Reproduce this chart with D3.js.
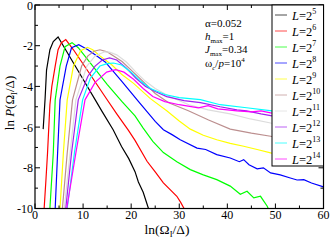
<!DOCTYPE html>
<html>
<head>
<script src="https://d3js.org/d3.v7.min.js"></script>
<style>
body { margin: 0; background: #fff; }
text { font-family: "Liberation Serif", "Times New Roman", serif; }
</style>
</head>
<body>
<script>

// exponents of L = 2^n, one curve each
var exponents = [5, 6, 7, 8, 9, 10, 11, 12, 13, 14];
var colors = ["#000000", "#ff0000", "#00ff00", "#0000ff", "#ffff00", "#bc8f8f", "#dcdcdc", "#a020f0", "#00ffff", "#ff00ff"];

var xTicks = [0, 10, 20, 30, 40, 50, 60];
var yTicks = [-10, -8, -6, -4, -2, 0];

// curves: [ln(Omega/Delta), ln P]
var c5 = [[1.7,-6.1],[2.1,-4.6],[2.4,-3.2],[3.1,-2.2],[3.8,-1.8],[4.8,-1.57],[6,-2.05],[8,-2.85],[10,-3.65],[12.5,-4.65],[14,-5.25],[16.25,-6.13],[18,-6.95],[19.5,-7.55],[20.8,-8.19],[21.5,-8.7],[22.5,-9.2],[23.6,-10]];
var c6 = [[1.9,-10],[2.3,-8.5],[2.6,-7.3],[3.1,-4.9],[3.5,-4.0],[4.2,-3.0],[4.8,-2.2],[5.5,-1.85],[6.4,-1.7],[8,-2.2],[10,-2.9],[12,-3.6],[14.9,-4.62],[17,-5.35],[19.4,-6.15],[20.8,-6.65],[23.3,-7.68],[25,-8.2],[26.7,-8.74],[28,-9.05],[29.5,-9.4],[30.3,-9.7],[31,-10]];
var c7 = [[3.1,-10],[3.8,-7.27],[4.2,-4.66],[5.2,-3.0],[6.25,-2.05],[7.7,-1.85],[9,-2.1],[11,-2.7],[13,-3.3],[15,-3.9],[18.1,-4.75],[20.8,-5.45],[22.5,-6.05],[24.5,-6.7],[26.7,-7.25],[29.5,-7.7],[32.3,-8.09],[35,-8.35],[37.8,-8.58],[40.6,-8.9],[42.7,-9.3],[44.1,-9.15],[45.5,-9.48],[46.9,-9.4],[48.3,-9.89],[48.5,-10]];
var c8 = [[4.2,-10],[4.7,-7.27],[5.2,-4.66],[6.5,-3.0],[7.6,-2.1],[9.1,-1.95],[11,-2.2],[12.5,-2.45],[14.6,-2.8],[18.1,-3.76],[21.5,-4.74],[25,-5.72],[26.7,-6.13],[28.5,-6.37],[30.2,-6.62],[33.7,-7.03],[35.5,-7.1],[37.8,-7.35],[40.6,-7.52],[42.5,-7.7],[43.4,-7.6],[44.5,-7.85],[46.2,-8.05],[47.5,-8.0],[49,-8.25],[51,-8.35],[53.1,-8.5],[54.5,-8.6],[55.9,-8.58],[57.5,-8.75],[60,-8.94]];
var c9 = [[5.2,-10],[5.9,-7.27],[6.7,-4.66],[8.0,-3.0],[9.5,-2.25],[10.9,-2.08],[12,-2.2],[13.5,-2.5],[16,-2.95],[18,-3.4],[20.5,-3.85],[24,-4.6],[27.4,-5.2],[30,-5.7],[32.3,-6.1],[35,-6.4],[37.8,-6.62],[40.6,-6.8],[43.4,-6.94],[46.2,-7.1],[49,-7.27],[52,-7.4],[55,-7.55],[60,-7.8]];
var c10 = [[5.7,-10],[6.7,-7.27],[7.8,-4.66],[9.7,-3.0],[11,-2.5],[12.3,-2.27],[13.5,-2.2],[15,-2.3],[18.1,-2.78],[20,-3.2],[22.2,-3.7],[25,-4.35],[27.8,-4.8],[31.9,-5.2],[36.1,-5.65],[40.6,-6.1],[45,-6.3],[49,-6.45],[52,-6.6],[55,-6.75],[60,-6.9]];
var c11 = [[6.1,-10],[7.3,-7.27],[8.5,-4.66],[10.8,-3.0],[12.5,-2.5],[14.5,-2.3],[15.5,-2.32],[17,-2.45],[19,-2.8],[21,-3.3],[23,-3.75],[25,-4.1],[28,-4.5],[32,-4.9],[36,-5.15],[40.6,-5.35],[44.8,-5.6],[49,-5.8],[55,-6.0],[60,-6.2]];
var c12 = [[6.4,-10],[7.6,-7.27],[9.0,-4.66],[11,-3.5],[12.5,-3.0],[14,-2.7],[15.5,-2.6],[17,-2.7],[19,-3.1],[21,-3.6],[23,-4.0],[25,-4.25],[27.4,-4.5],[31,-4.7],[34.4,-4.8],[38.5,-5.0],[42,-5.15],[44,-5.2],[47,-5.35],[49.3,-5.45],[55,-5.6],[60,-5.8]];
var c13 = [[6.7,-10],[8.2,-7.27],[9.9,-4.66],[11.5,-3.6],[13.5,-3.0],[15,-2.88],[16.3,-2.85],[18,-2.95],[20,-3.3],[22,-3.75],[24,-4.1],[27,-4.4],[30,-4.55],[34.4,-4.65],[38.5,-4.9],[44,-5.05],[49.3,-5.2],[55,-5.4],[60,-5.5]];
var c14 = [[6.6,-10],[8.5,-7.27],[10.4,-4.66],[12.5,-3.8],[14.9,-3.3],[16.8,-3.18],[18.5,-3.3],[20.5,-3.65],[22.5,-4.1],[24.5,-4.5],[27,-4.75],[30,-4.9],[34,-5.05],[36,-4.95],[38,-5.1],[42,-5.2],[45,-5.25],[47,-5.2],[49,-5.3],[55,-5.45],[60,-5.6]];

var curves = [c5, c6, c7, c8, c9, c10, c11, c12, c13, c14];

var width = 332, height = 242;
var pLeft = 35, pRight = 323.5, pTop = 5, pBottom = 208.5;

var svg = d3.select("body").append("svg")
    .attr("width", width)
    .attr("height", height);

var x = d3.scaleLinear().domain([0, 60]).range([pLeft, pRight]);
var y = d3.scaleLinear().domain([-10, 0]).range([pBottom, pTop]);

svg.append("clipPath").attr("id", "plot")
  .append("rect")
    .attr("x", pLeft).attr("y", pTop)
    .attr("width", pRight - pLeft).attr("height", pBottom - pTop);

var line = d3.line()
    .x(function(d) { return x(d[0]); })
    .y(function(d) { return y(d[1]); });

var g = svg.append("g").attr("clip-path", "url(#plot)");
curves.forEach(function(c, i) {
  g.append("path")
    .attr("d", line(c))
    .attr("fill", "none")
    .attr("stroke", colors[i])
    .attr("stroke-width", 1.2);
});

// ticks, inward on all four sides
var xMinor = d3.range(0, 61, 5);
var yMinor = d3.range(-10, 1, 1);
var ticks = svg.append("g").attr("stroke", "black").attr("stroke-width", 1);
xMinor.forEach(function(v) {
  var len = v % 10 == 0 ? 5 : 3;
  ticks.append("line").attr("x1", x(v)).attr("x2", x(v)).attr("y1", pBottom).attr("y2", pBottom - len);
  ticks.append("line").attr("x1", x(v)).attr("x2", x(v)).attr("y1", pTop).attr("y2", pTop + len);
});
yMinor.forEach(function(v) {
  var len = v % 2 == 0 ? 5 : 3;
  ticks.append("line").attr("y1", y(v)).attr("y2", y(v)).attr("x1", pLeft).attr("x2", pLeft + len);
  ticks.append("line").attr("y1", y(v)).attr("y2", y(v)).attr("x1", pRight).attr("x2", pRight - len);
});

svg.append("rect")
    .attr("x", pLeft).attr("y", pTop)
    .attr("width", pRight - pLeft).attr("height", pBottom - pTop)
    .attr("fill", "none").attr("stroke", "black").attr("stroke-width", 1.2);

xTicks.forEach(function(v) {
  svg.append("text")
    .attr("x", x(v)).attr("y", pBottom + 10.5)
    .attr("text-anchor", "middle")
    .attr("font-size", "12px")
    .text(v);
});
yTicks.forEach(function(v) {
  svg.append("text")
    .attr("x", pLeft - 2).attr("y", y(v) + 4.5)
    .attr("text-anchor", "end")
    .attr("font-size", "12px")
    .text(v == 0 ? "0" : "-" + (-v));
});

// axis titles
var xl = svg.append("text")
    .attr("x", 167).attr("y", 234)
    .attr("text-anchor", "middle")
    .attr("font-size", "13.5px");
xl.append("tspan").text("ln(\u03a9");
xl.append("tspan").attr("font-size", "8.5px").attr("dy", 3).text("I");
xl.append("tspan").attr("dy", -3).text("/\u0394)");

var yl = svg.append("text")
    .attr("transform", "translate(14,103) rotate(-90)")
    .attr("text-anchor", "middle")
    .attr("font-size", "13px");
yl.append("tspan").text("ln ");
yl.append("tspan").attr("font-style", "italic").text("P");
yl.append("tspan").text("(\u03a9");
yl.append("tspan").attr("font-size", "8.5px").attr("dy", 3).text("I");
yl.append("tspan").attr("dy", -3).text("/\u0394)");

// parameter notes
var notes = svg.append("g").attr("font-size", "11px");
notes.append("text").attr("x", 205).attr("y", 27).text("\u03b1=0.052");
var t = notes.append("text").attr("x", 205).attr("y", 40);
t.append("tspan").attr("font-style", "italic").text("h");
t.append("tspan").attr("font-size", "7px").attr("dy", 3).text("max");
t.append("tspan").attr("dy", -3).text("=1");
t = notes.append("text").attr("x", 205).attr("y", 53);
t.append("tspan").attr("font-style", "italic").text("J");
t.append("tspan").attr("font-size", "7px").attr("dy", 3).text("max");
t.append("tspan").attr("dy", -3).text("=0.34");
t = notes.append("text").attr("x", 205).attr("y", 67);
t.append("tspan").text("\u03c9");
t.append("tspan").attr("font-size", "7px").attr("dy", 3).attr("font-style", "italic").text("c");
t.append("tspan").attr("dy", -3).text("/");
t.append("tspan").attr("font-style", "italic").text("p");
t.append("tspan").text("=10");
t.append("tspan").attr("font-size", "7px").attr("dy", -5).text("4");

// legend
var lg = svg.append("g");
lg.append("rect")
    .attr("x", 272).attr("y", pTop)
    .attr("width", pRight - 272).attr("height", 161)
    .attr("fill", "white").attr("stroke", "black").attr("stroke-width", 1);
exponents.forEach(function(n, i) {
  var yy = 15 + i * 16;
  lg.append("line")
    .attr("x1", 275).attr("x2", 287)
    .attr("y1", yy).attr("y2", yy)
    .attr("stroke", colors[i]).attr("stroke-width", 1)
    .attr("stroke-opacity", 0.7);
  var tx = lg.append("text").attr("x", 292).attr("y", yy + 4.5).attr("font-size", "12.5px");
  tx.append("tspan").attr("font-style", "italic").text("L");
  tx.append("tspan").text("=2");
  tx.append("tspan").attr("font-size", "8px").attr("dy", -6).text(n);
});

</script>
</body>
</html>
